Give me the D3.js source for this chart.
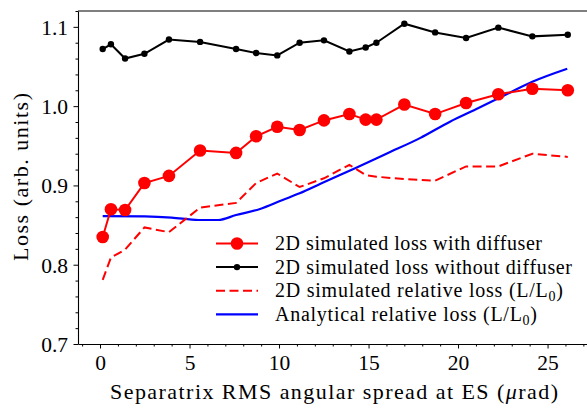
<!DOCTYPE html>
<html>
<head>
<meta charset="utf-8">
<script src="https://cdn.jsdelivr.net/npm/d3@7"></script>
<style>
  html, body { margin: 0; padding: 0; background: #fff; }
  svg { display: block; }
  text { font-family: "Liberation Serif", "DejaVu Serif", serif; fill: #000; }
</style>
</head>
<body>
<svg id="chart" width="587" height="410"></svg>
<script>
// ---- data ----
const spread = [0.15, 0.61, 1.40, 2.48, 3.85, 5.59, 7.60, 8.72, 9.90, 11.15, 12.51, 13.93, 14.84, 15.44, 17.00, 18.72, 20.45, 22.25, 24.15, 26.13];
const lossWithDiffuser = [0.835, 0.870, 0.869, 0.903, 0.912, 0.944, 0.941, 0.962, 0.974, 0.970, 0.982, 0.990, 0.983, 0.983, 1.002, 0.990, 1.004, 1.015, 1.022, 1.020];
const lossWithoutDiffuser = [1.072, 1.078, 1.060, 1.066, 1.084, 1.081, 1.072, 1.067, 1.064, 1.080, 1.083, 1.069, 1.074, 1.080, 1.104, 1.093, 1.086, 1.099, 1.088, 1.090];
const relativeLoss = [0.781, 0.809, 0.819, 0.847, 0.841, 0.872, 0.878, 0.903, 0.915, 0.898, 0.909, 0.926, 0.913, 0.911, 0.908, 0.906, 0.924, 0.924, 0.940, 0.936];
const analyticX = [0.15, 2.5, 4.0, 5.5, 6.6, 7.6, 8.9, 10.2, 11.15, 12.5, 14.25, 16.0, 17.9, 19.55, 21.0, 22.25, 24.15, 26.1];
const analyticLoss = [0.8614, 0.861, 0.8595, 0.8564, 0.8564, 0.8627, 0.870, 0.8816, 0.890, 0.904, 0.9216, 0.940, 0.960, 0.9804, 0.996, 1.0098, 1.0308, 1.0472];
const xTicks = [0, 5, 10, 15, 20, 25];
const yTicks = [0.7, 0.8, 0.9, 1.0, 1.1];

const svg = d3.select("#chart");
const pL = 78, pR = 600, pT = 11, pB = 344;

const x = d3.scaleLinear().domain([-1.23, 27.93]).range([pL, pR]);
const y = d3.scaleLinear().domain([0.7, 1.12]).range([pB, pT]);

// top spine
svg.append("line").attr("x1", pL).attr("x2", pR).attr("y1", pT).attr("y2", pT)
  .attr("stroke", "#000").attr("stroke-width", 1.1);

// x axis
const xAxis = svg.append("g").attr("transform", `translate(0,${pB})`)
  .call(d3.axisBottom(x).tickValues(xTicks).tickFormat(d3.format("d")).tickSize(4.5).tickSizeOuter(0));
const xMinor = svg.append("g").attr("transform", `translate(0,${pB})`)
  .call(d3.axisBottom(x).tickValues(d3.range(-1, 28).filter(v => v % 5 !== 0)).tickFormat("").tickSize(2.5).tickSizeOuter(0));
xMinor.select(".domain").remove();

const yAxis = svg.append("g").attr("transform", `translate(${pL},0)`)
  .call(d3.axisLeft(y).tickValues(yTicks).tickFormat(d3.format(".1f")).tickSize(4.5).tickSizeOuter(0));
const yMinor = svg.append("g").attr("transform", `translate(${pL},0)`)
  .call(d3.axisLeft(y).tickValues(d3.range(0, 22).map(i => 0.7 + i * 0.02).filter(v => Math.abs(Math.round(v * 10) - v * 10) > 1e-6)).tickFormat("").tickSize(2.5).tickSizeOuter(0));
yMinor.select(".domain").remove();

svg.selectAll(".domain").attr("stroke", "#000").attr("stroke-width", 1.1);
svg.selectAll(".tick line").attr("stroke", "#000").attr("stroke-width", 1);
xAxis.selectAll(".tick text").attr("font-size", 21.5).attr("dy", null).attr("y", 26)
  .attr("font-family", "Liberation Serif").attr("fill", "#000");
yAxis.selectAll(".tick text").attr("font-size", 21.5).attr("x", -10).attr("dy", "0.34em")
  .attr("font-family", "Liberation Serif").attr("fill", "#000");

// axis labels
const xl = svg.append("text").attr("x", 110).attr("y", 399).attr("font-size", 22)
  .attr("textLength", 448).attr("lengthAdjust", "spacing");
xl.append("tspan").text("Separatrix RMS angular spread at ES (");
xl.append("tspan").attr("font-style", "italic").text("μ");
xl.append("tspan").text("rad)");

svg.append("text").attr("transform", "translate(28,261) rotate(-90)")
  .attr("font-size", 22).attr("textLength", 168).attr("lengthAdjust", "spacing")
  .text("Loss (arb. units)");

// series
const lineXY = d3.line().x(d => x(d[0])).y(d => y(d[1]));
const g = svg.append("g");

g.append("path").datum(d3.zip(analyticX, analyticLoss))
  .attr("d", d3.line().x(d => x(d[0])).y(d => y(d[1])).curve(d3.curveMonotoneX))
  .attr("fill", "none").attr("stroke", "#0000ff").attr("stroke-width", 2.2);

g.append("path").datum(d3.zip(spread, relativeLoss)).attr("d", lineXY)
  .attr("fill", "none").attr("stroke", "#ff0000").attr("stroke-width", 2).attr("stroke-dasharray", "9,4.5");

g.append("path").datum(d3.zip(spread, lossWithoutDiffuser)).attr("d", lineXY)
  .attr("fill", "none").attr("stroke", "#000").attr("stroke-width", 2);
g.selectAll("circle.nd").data(d3.zip(spread, lossWithoutDiffuser)).join("circle").attr("class", "nd")
  .attr("cx", d => x(d[0])).attr("cy", d => y(d[1])).attr("r", 3.2).attr("fill", "#000");

g.append("path").datum(d3.zip(spread, lossWithDiffuser)).attr("d", lineXY)
  .attr("fill", "none").attr("stroke", "#ff0000").attr("stroke-width", 2);
g.selectAll("circle.wd").data(d3.zip(spread, lossWithDiffuser)).join("circle").attr("class", "wd")
  .attr("cx", d => x(d[0])).attr("cy", d => y(d[1])).attr("r", 6.3).attr("fill", "#ff0000");

// legend
const legendItems = [
  { color: "#ff0000", dash: null, marker: 6.3, len: 267, label: ["2D simulated loss with diffuser"] },
  { color: "#000", dash: null, marker: 3.2, len: 297, label: ["2D simulated loss without diffuser"] },
  { color: "#ff0000", dash: "9,4.5", marker: 0, len: 288, label: ["2D simulated relative loss (L/L", "0", ")"] },
  { color: "#0000ff", dash: null, marker: 0, len: 262, label: ["Analytical relative loss (L/L", "0", ")"] }
];
const lg = svg.append("g");
legendItems.forEach((it, i) => {
  const cy = 243.5 + i * 23.6;
  lg.append("line").attr("x1", 216).attr("x2", 258).attr("y1", cy).attr("y2", cy)
    .attr("stroke", it.color).attr("stroke-width", it.color === "#0000ff" ? 2.2 : 2)
    .attr("stroke-dasharray", it.dash);
  if (it.marker) lg.append("circle").attr("cx", 237).attr("cy", cy).attr("r", it.marker).attr("fill", it.color);
  const t = lg.append("text").attr("x", 275).attr("y", cy + 6.5).attr("font-size", 20)
    .attr("textLength", it.len).attr("lengthAdjust", "spacing");
  t.append("tspan").text(it.label[0]);
  if (it.label.length > 1) {
    t.append("tspan").attr("font-size", 14).attr("dy", 4).text(it.label[1]);
    t.append("tspan").attr("dy", -4).text(it.label[2]);
  }
});
</script>
</body>
</html>
